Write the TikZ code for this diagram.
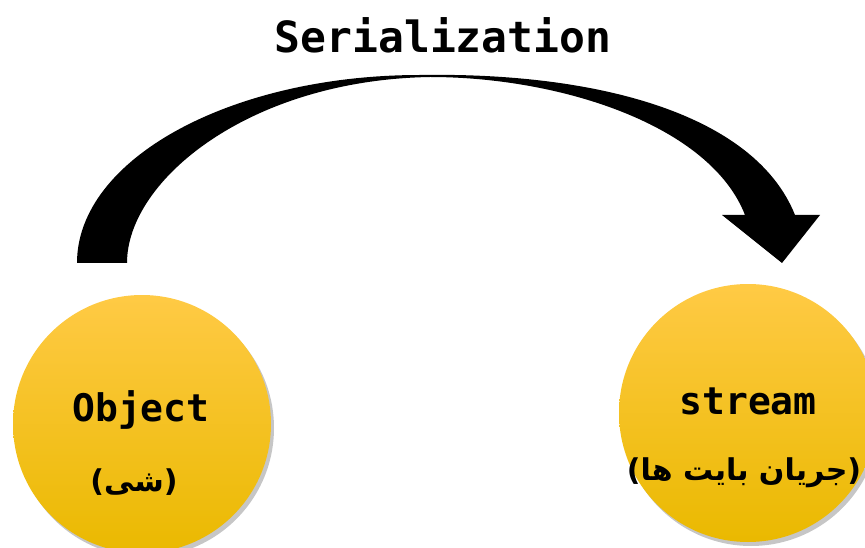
\documentclass[tikz,border=0pt]{standalone}
\usepackage{fontspec}
\setmonofont{DejaVu Sans Mono}
\newfontfamily\arabicfont[Script=Arabic]{DejaVu Sans}
\newfontfamily\parenfont{DejaVu Sans}
\TeXXeTstate=1
\usetikzlibrary{shadows,positioning}
\definecolor{ballTop}{HTML}{FFCA45}
\definecolor{ballMid}{HTML}{FFC000}
\definecolor{ballBot}{HTML}{EAB900}
\tikzset{
	ball/.style={circle, minimum size=258pt, inner sep=0, top color=ballTop,
		middle color=ballMid, bottom color=ballBot,
		drop shadow={opacity=0.45, shadow xshift=3pt, shadow yshift=-4pt}},
	word/.style={font=\ttfamily\bfseries\fontsize{38}{40}\selectfont},
	farsi/.style={font=\arabicfont\bfseries\fontsize{30}{33}\selectfont},
	title/.style={font=\ttfamily\bfseries\fontsize{43}{46}\selectfont}
}
\newcommand{\fa}[1]{{\parenfont(}\beginR #1\endR{\parenfont)}}

\begin{document}
\begin{tikzpicture}[x=1pt,y=-1pt]
	\useasboundingbox (0,0) rectangle (865,548);
	\clip (0,0) rectangle (865,548);
	\node[ball] (obj) at (142,424) {};
	\node[ball] (strm) at (748,413) {};
	\node[word] (objname) at (141,410) {Object};
	\node[farsi] (objfa) at (134,482) {\fa{شی}};
	\node[word] (strmname) at (748,401) {stream};
	\node[farsi] (strmfa) at (744,473) {\fa{جریان بایت ها}};
	\node[title] (ser) at (443,35) {Serialization};
	% curved block arrow from object to stream
	\fill (77,263) .. controls (77,159) and (231,75) .. (420,75)
		.. controls (600,72) and (755,115) .. (795,215)
		-- (820,215) -- (782,263) -- (722,215) -- (745,215)
		.. controls (710,125) and (560,77) .. (430,77)
		.. controls (250,80) and (127,180) .. (127,263) -- cycle;
\end{tikzpicture}
\end{document}
